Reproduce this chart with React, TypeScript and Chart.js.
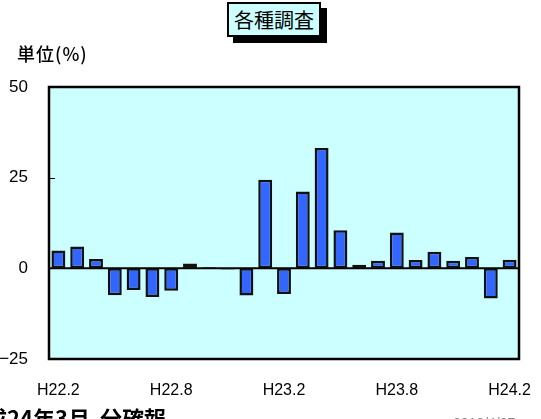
import { useEffect, useRef } from 'react';
import { Chart, registerables } from 'chart.js';
Chart.register(...registerables);

// monthly values, H22.2 .. H24.2 (%)
const months = [
  'H22.2', 'H22.3', 'H22.4', 'H22.5', 'H22.6', 'H22.7', 'H22.8', 'H22.9', 'H22.10', 'H22.11', 'H22.12', 'H23.1',
  'H23.2', 'H23.3', 'H23.4', 'H23.5', 'H23.6', 'H23.7', 'H23.8', 'H23.9', 'H23.10', 'H23.11', 'H23.12', 'H24.1',
  'H24.2',
];
const values = [
  4.9, 6.0, 2.6, -7.4, -6.0, -7.9, -6.2, 1.3, 0.3, -0.3, -7.5, 24.4,
  -7.1, 21.2, 33.2, 10.5, 1.0, 2.1, 9.9, 2.3, 4.6, 2.1, 3.1, -8.3,
  2.4,
];
const yTicks = [-25, 0, 25, 50];
const shownEvery = 6;

const LATIN = '"Liberation Sans", Arial, sans-serif';
const JP = '"Noto Sans CJK JP", sans-serif';

// cyan plot background, zero line, frame and inner tick marks
const framePlugin = {
  id: 'frame',
  beforeDatasetsDraw(chart: Chart) {
    const { ctx, chartArea: a } = chart;
    const y = chart.scales.y;
    ctx.save();
    ctx.fillStyle = '#ccffff';
    ctx.fillRect(a.left, a.top, a.right - a.left, a.bottom - a.top);
    const y0 = y.getPixelForValue(0);
    ctx.strokeStyle = '#000';
    ctx.lineWidth = 2;
    ctx.beginPath();
    ctx.moveTo(a.left, y0);
    ctx.lineTo(a.right, y0);
    ctx.stroke();
    ctx.restore();
  },
  afterDatasetsDraw(chart: Chart) {
    const { ctx, chartArea: a } = chart;
    const y = chart.scales.y;
    ctx.save();
    ctx.strokeStyle = '#000';
    ctx.lineWidth = 1;
    yTicks.forEach(t => {
      const py = Math.round(y.getPixelForValue(t)) + 0.5;
      ctx.beginPath();
      ctx.moveTo(a.left, py);
      ctx.lineTo(a.left + 6, py);
      ctx.stroke();
    });
    ctx.lineWidth = 2.5;
    ctx.strokeRect(a.left, a.top, a.right - a.left, a.bottom - a.top);
    ctx.restore();
  },
};

export default function App() {
  const ref = useRef<HTMLCanvasElement>(null);

  useEffect(() => {
    const canvas = ref.current;
    if (!canvas) return;
    const chart = new Chart(canvas, {
      type: 'bar',
      data: {
        labels: months,
        datasets: [{
          data: values,
          backgroundColor: '#3366ff',
          borderColor: '#111',
          borderWidth: 2.5,
          borderSkipped: false,
          barPercentage: 0.74,
          categoryPercentage: 1,
        }],
      },
      options: {
        responsive: false,
        animation: false,
        layout: { autoPadding: false, padding: { top: 87, right: 22, left: 0, bottom: 0 } },
        plugins: { legend: { display: false }, tooltip: { enabled: false } },
        scales: {
          x: {
            offset: true,
            grid: { display: false, drawTicks: false },
            border: { display: false },
            afterFit: (s: any) => { s.height = 60; s.paddingLeft = 0; s.paddingRight = 0; },
            ticks: {
              autoSkip: false,
              maxRotation: 0,
              padding: 22,
              color: '#000',
              font: { family: LATIN, size: 16 },
              callback: (_v, i) => (i % shownEvery === 0 ? months[i] : ''),
            },
          },
          y: {
            min: -25,
            max: 50,
            grid: { display: false, drawTicks: false },
            border: { display: false },
            afterFit: (s: any) => { s.width = 49; s.paddingTop = 0; s.paddingBottom = 0; },
            afterBuildTicks: s => { s.ticks = yTicks.map(v => ({ value: v })); },
            ticks: {
              padding: 21,
              color: '#000',
              font: { family: LATIN, size: 17 },
              callback: v => (Number(v) < 0 ? '\u2212' + Math.abs(Number(v)) : String(v)),
            },
          },
        },
      },
      plugins: [framePlugin],
    });
    return () => chart.destroy();
  }, []);

  return (
    <div style={{ position: 'fixed', left: 0, top: 0, width: 541, height: 419, overflow: 'hidden', background: '#fff' }}>
      <canvas ref={ref} width={541} height={419} style={{ position: 'absolute', left: 0, top: 0 }} />
      {/* title box with drop shadow */}
      <div style={{ position: 'absolute', left: 233, top: 8, width: 94, height: 35, background: '#000' }} />
      <div style={{
        position: 'absolute', left: 227, top: 2, width: 90, height: 31, background: '#ccffff',
        border: '2px solid #000', fontFamily: JP, fontSize: 20, lineHeight: '31px', textAlign: 'center', color: '#000',
      }}>各種調査</div>
      <div style={{ position: 'absolute', left: 17, top: 40, fontFamily: JP, fontSize: 18, fontWeight: 500, letterSpacing: 1, color: '#000', whiteSpace: 'nowrap' }}>
        単位(%)
      </div>
      <div style={{ position: 'absolute', left: -37, top: 404, fontFamily: JP, fontSize: 22, fontWeight: 700, color: '#000', whiteSpace: 'nowrap', lineHeight: 1.2 }}>
        平成24年3月
      </div>
      <div style={{ position: 'absolute', left: 100, top: 404, fontFamily: JP, fontSize: 22, fontWeight: 700, color: '#000', whiteSpace: 'nowrap', lineHeight: 1.2 }}>
        分確報
      </div>
      <div style={{ position: 'absolute', left: 453, top: 415, fontFamily: LATIN, fontSize: 14, color: '#888', whiteSpace: 'nowrap' }}>
        2012/4/27
      </div>
    </div>
  );
}
